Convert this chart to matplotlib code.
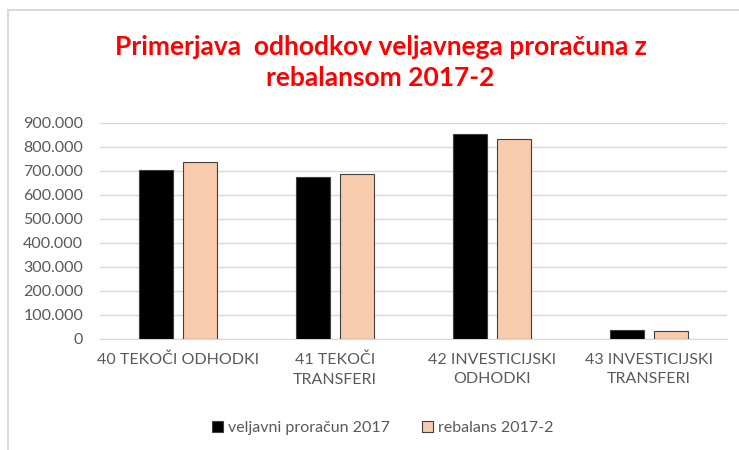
import numpy as np
import matplotlib
matplotlib.use("Agg")
import matplotlib.pyplot as plt
from matplotlib.lines import Line2D
from matplotlib.ticker import FuncFormatter

kategorije = ["40 TEKOČI ODHODKI", "41 TEKOČI\nTRANSFERI",
              "42 INVESTICIJSKI\nODHODKI", "43 INVESTICIJSKI\nTRANSFERI"]
veljavni_2017 = [702000, 674000, 852000, 35000]
rebalans_2017_2 = [735000, 685000, 833000, 33000]
serije = ["veljavni proračun 2017", "rebalans 2017-2"]
y_ticks = np.arange(0, 900001, 100000)

plt.rcParams['font.family'] = ['Lato', 'DejaVu Sans']

fig = plt.figure(figsize=(7.39, 4.5), dpi=100)
ax = fig.add_axes([0.135, 0.247, 0.849, 0.48])

x = np.arange(len(kategorije))
w = 0.217
ax.bar(x - 0.14, veljavni_2017, w, color="black", edgecolor="#404040",
       linewidth=0.8, label=serije[0], zorder=3)
ax.bar(x + 0.14, rebalans_2017_2, w, color="#f8cbad", edgecolor="#404040",
       linewidth=0.8, label=serije[1], zorder=3)

ax.set_xlim(-0.5, len(kategorije) - 0.5)
ax.set_ylim(0, 900000)
ax.set_yticks(y_ticks)
ax.yaxis.set_major_formatter(FuncFormatter(lambda v, p: f"{int(v):,}".replace(",", ".")))
ax.grid(axis="y", color="#d9d9d9", linewidth=1, zorder=0)
for s in ["top", "right", "left"]:
    ax.spines[s].set_visible(False)
ax.spines["bottom"].set_color("#d9d9d9")
ax.tick_params(axis="both", length=0, labelsize=11.5, colors="#595959")
ax.tick_params(axis="y", pad=12)
ax.tick_params(axis="x", pad=10)
ax.set_xticks(x)
ax.set_xticklabels(kategorije, linespacing=1.5)

fig.text(0.515, 0.861, "Primerjava  odhodkov veljavnega proračuna z\nrebalansom 2017-2",
         ha="center", va="center", color="red", fontsize=19, fontweight="bold",
         linespacing=1.35)

ax.legend(loc="center", bbox_to_anchor=(0.451, -0.413), ncol=2, frameon=False,
          fontsize=11.5, labelcolor="#595959", handlelength=0.7, handleheight=0.7,
          handletextpad=0.3, columnspacing=2.0)

fig.add_artist(Line2D([8 / 739, 8 / 739], [0, 1 - 10 / 450], color="#d9d9d9", linewidth=1.5))
fig.add_artist(Line2D([8 / 739, 1], [1 - 10 / 450, 1 - 10 / 450], color="#d9d9d9", linewidth=1.5))

fig.savefig("out.png", dpi=100)
